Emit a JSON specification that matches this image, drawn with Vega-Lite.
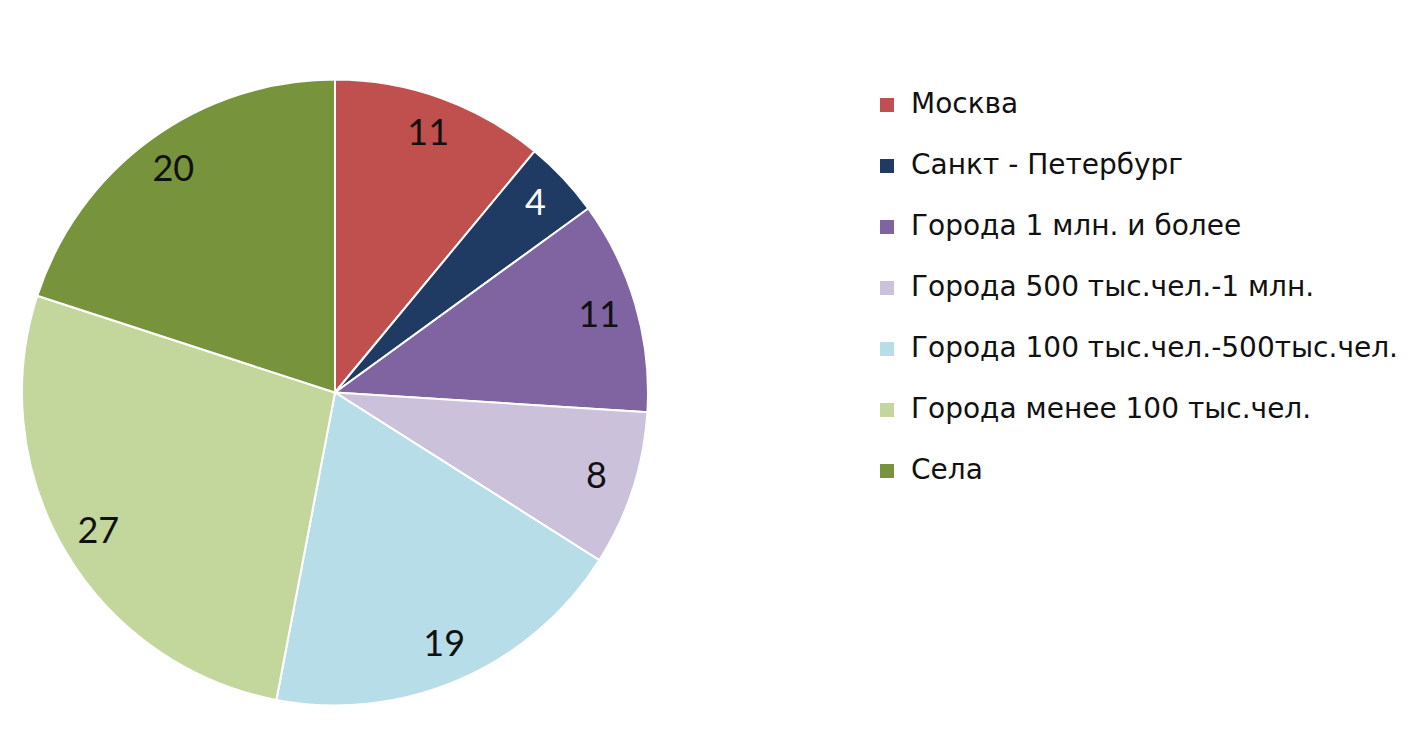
{
  "$schema": "https://vega.github.io/schema/vega-lite/v6.json",
  "width": 670,
  "height": 731,
  "padding": {"top": 27, "left": 0, "right": 0, "bottom": 0},
  "background": "white",
  "view": {"stroke": null},
  "data": {
    "values": [
      {"name": "Москва", "value": 11, "ord": 1},
      {"name": "Санкт - Петербург", "value": 4, "ord": 2},
      {"name": "Города 1 млн. и более", "value": 11, "ord": 3},
      {"name": "Города 500 тыс.чел.-1 млн.", "value": 8, "ord": 4},
      {"name": "Города 100 тыс.чел.-500тыс.чел.", "value": 19, "ord": 5},
      {"name": "Города менее 100 тыс.чел.", "value": 27, "ord": 6},
      {"name": "Села", "value": 20, "ord": 7}
    ]
  },
  "encoding": {
    "theta": {"field": "value", "type": "quantitative", "stack": true},
    "order": {"field": "ord", "type": "quantitative"}
  },
  "layer": [
    {
      "mark": {"type": "arc", "outerRadius": 313, "stroke": "white", "strokeWidth": 2},
      "encoding": {
        "color": {
          "field": "name",
          "type": "nominal",
          "sort": {"field": "ord"},
          "scale": {
            "domain": ["Москва", "Санкт - Петербург", "Города 1 млн. и более", "Города 500 тыс.чел.-1 млн.", "Города 100 тыс.чел.-500тыс.чел.", "Города менее 100 тыс.чел.", "Села"],
            "range": ["#c0504d", "#1f3b63", "#8064a2", "#ccc1da", "#b7dde8", "#c3d69b", "#77933c"]
          },
          "legend": {
            "title": null,
            "orient": "none",
            "legendX": 873,
            "legendY": 64,
            "symbolType": "square",
            "symbolSize": 196,
            "symbolStrokeWidth": 0,
            "labelFont": "DejaVu Sans",
            "labelFontSize": 28,
            "labelColor": "#111111",
            "labelOffset": 10,
            "labelLimit": 600,
            "rowPadding": 33
          }
        }
      }
    },
    {
      "mark": {"type": "text", "radius": 275, "font": "Lato", "fontSize": 36},
      "encoding": {
        "text": {"field": "value", "type": "quantitative"},
        "color": {
          "condition": {"test": "datum.name === 'Санкт - Петербург'", "value": "white"},
          "value": "#111111"
        }
      }
    }
  ]
}
